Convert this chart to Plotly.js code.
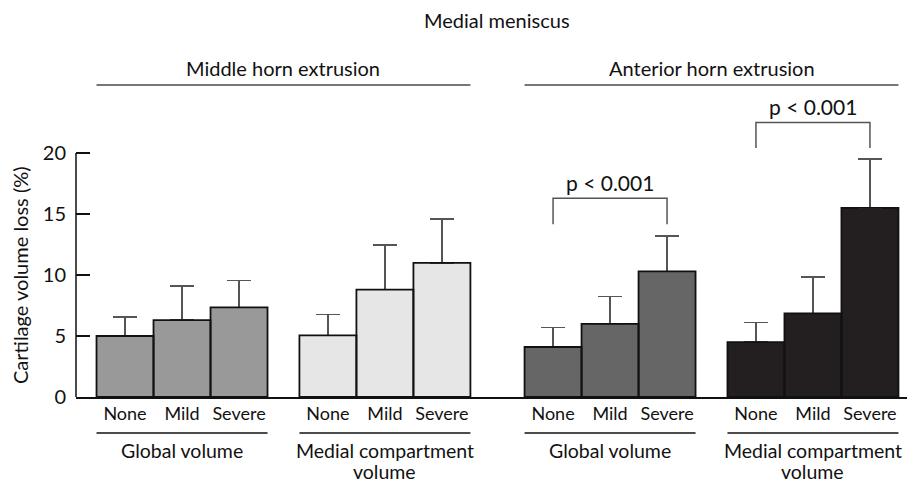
<!DOCTYPE html>
<html>
<head>
<meta charset="utf-8">
<script src="https://cdn.plot.ly/plotly-3.0.1.min.js"></script>
<style>html,body{margin:0;padding:0;background:#fff;}#chart{width:907px;height:482px;}</style>
</head>
<body>
<div id="chart"></div>
<script>
// ---- data ----
const severity = ['None', 'Mild', 'Severe'];
const groupLabels = ['Global volume', 'Medial compartment<br>volume', 'Global volume', 'Medial compartment<br>volume'];
const sectionLabels = ['Middle horn extrusion', 'Anterior horn extrusion'];
const chartTitle = 'Medial meniscus';
const middleGlobal = [5.0, 6.3, 7.35];
const middleGlobalSD = [1.55, 2.8, 2.2];
const middleMedial = [5.05, 8.8, 11.0];
const middleMedialSD = [1.7, 3.65, 3.6];
const anteriorGlobal = [4.1, 6.0, 10.3];
const anteriorGlobalSD = [1.6, 2.25, 2.9];
const anteriorMedial = [4.5, 6.85, 15.5];
const anteriorMedialSD = [1.6, 3.0, 4.0];
const pLabel = 'p < 0.001';
const yTicks = [0, 5, 10, 15, 20];

// ---- layout constants ----
const FONT = 'Lato, "Liberation Sans", sans-serif';
const groupOffset = [0, 3.56, 7.51, 11.07];
const fills = ['#999999', '#e6e6e6', '#666666', '#231f20'];
const means = [middleGlobal, middleMedial, anteriorGlobal, anteriorMedial];
const sds = [middleGlobalSD, middleMedialSD, anteriorGlobalSD, anteriorMedialSD];
const xsOf = g => severity.map((_, i) => groupOffset[g] + i);

const traces = means.map((vals, g) => ({
  type: 'bar',
  x: xsOf(g),
  y: vals,
  width: 1,
  marker: {color: fills[g], line: {color: fills[g], width: 0}},
  error_y: {type: 'data', symmetric: false, array: sds[g], arrayminus: sds[g].map(() => 0),
            color: '#555', thickness: 1.5, width: 12},
  hoverinfo: 'skip',
  showlegend: false
}));
// outlines drawn on top (covers the error-bar foot on the bar top)
means.forEach((vals, g) => traces.push({
  type: 'bar', x: xsOf(g), y: vals, width: 1,
  marker: {color: 'rgba(0,0,0,0)', line: {color: '#111', width: 1.8}},
  hoverinfo: 'skip', showlegend: false
}));

const tickvals = [], ticktext = [];
groupOffset.forEach(o => severity.forEach((s, i) => { tickvals.push(o + i); ticktext.push(s); }));

const yPerPx = 1 / 12.2;
const plotH = 397;
const shapes = [];
const annotations = [];

// y axis line (0..20)
shapes.push({type: 'line', xref: 'paper', yref: 'y', x0: 0, x1: 0, y0: 0, y1: 20,
             line: {color: '#111', width: 1.5}});

// group underlines and labels (each text line placed separately for tight spacing)
groupOffset.forEach((o, g) => {
  shapes.push({type: 'line', xref: 'x', yref: 'paper', x0: o - 0.5, x1: o + 2.5,
               y0: (397 - 433) / plotH, y1: (397 - 433) / plotH, line: {color: '#111', width: 1.5}});
  groupLabels[g].split('<br>').forEach((line, k) => {
    annotations.push({xref: 'x', yref: 'paper', x: o + 1, y: (397 - (450 + 22 * k)) / plotH, yanchor: 'middle',
                      text: line, showarrow: false, font: {family: FONT, size: 19.5, color: '#111'}});
  });
});

// section headers
[[0, 1], [2, 3]].forEach((pair, s) => {
  const x0 = groupOffset[pair[0]] - 0.5, x1 = groupOffset[pair[1]] + 2.5;
  shapes.push({type: 'line', xref: 'x', yref: 'paper', x0: x0, x1: x1,
               y0: (397 - 85) / plotH, y1: (397 - 85) / plotH, line: {color: '#777', width: 2}});
  annotations.push({xref: 'x', yref: 'paper', x: (x0 + x1) / 2, y: (397 - 68) / plotH, yanchor: 'middle',
                    text: sectionLabels[s], showarrow: false, font: {family: FONT, size: 20, color: '#111'}});
});

// main title
annotations.push({xref: 'x', yref: 'paper', x: (groupOffset[0] - 0.5 + groupOffset[3] + 2.5) / 2,
                  y: (397 - 20) / plotH, yanchor: 'middle', text: chartTitle, showarrow: false,
                  font: {family: FONT, size: 20, color: '#111'}});

// significance brackets (anterior horn groups)
[[2, 16.3, 14.15, 17.55], [3, 22.5, 20.4, 23.8]].forEach(b => {
  const g = b[0], xa = groupOffset[g], xb = groupOffset[g] + 2;
  shapes.push({type: 'path', xref: 'x', yref: 'y',
               path: `M${xa},${b[2]} L${xa},${b[1]} L${xb},${b[1]} L${xb},${b[2]}`,
               line: {color: '#555', width: 1.5}});
  annotations.push({xref: 'x', yref: 'y', x: (xa + xb) / 2, y: b[3], yanchor: 'middle',
                    text: pLabel, showarrow: false, font: {family: FONT, size: 21, color: '#111'}});
});

// y title
annotations.push({xref: 'paper', yref: 'y', x: (20 - 76) / 831, y: 10, xanchor: 'center', yanchor: 'middle',
                  textangle: -90, text: 'Cartilage volume loss (%)', showarrow: false,
                  font: {family: FONT, size: 20, color: '#111'}});

const layout = {
  width: 907, height: 482,
  margin: {l: 76, r: 0, t: 0, b: 85},
  paper_bgcolor: '#fff', plot_bgcolor: '#fff',
  bargap: 0,
  barmode: 'overlay',
  xaxis: {range: [-0.86, 13.72], tickvals: tickvals, ticktext: ticktext, ticks: '',
          showline: true, linecolor: '#111', linewidth: 1.5, showgrid: false, zeroline: false,
          tickfont: {family: FONT, size: 18, color: '#111'}, fixedrange: true},
  yaxis: {range: [0, plotH * yPerPx], tickvals: yTicks, ticks: 'inside', ticklen: 14, tickwidth: 1.5,
          tickcolor: '#111', showline: false, showgrid: false, zeroline: false, ticklabelstandoff: 9,
          tickfont: {family: FONT, size: 20, color: '#111'}, fixedrange: true},
  shapes: shapes,
  annotations: annotations,
  font: {family: FONT}
};

Plotly.newPlot('chart', traces, layout, {displayModeBar: false, staticPlot: true});
</script>
</body>
</html>
